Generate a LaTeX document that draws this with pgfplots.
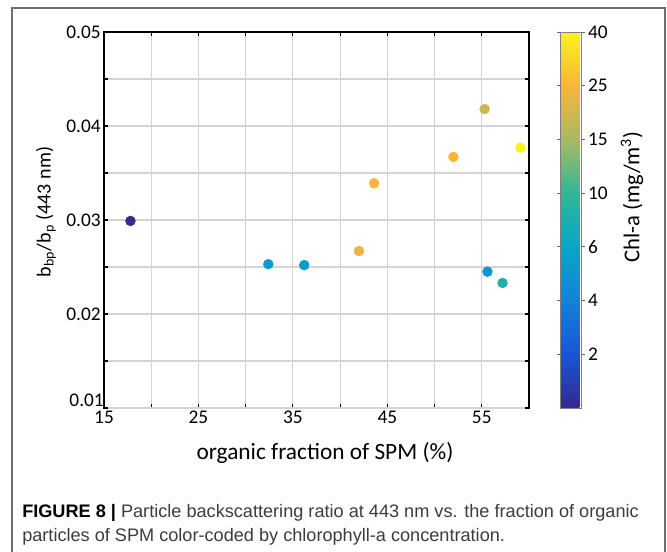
\documentclass[border=0pt]{standalone}
\usepackage{pgfplots}
\pgfplotsset{compat=1.18}
\usepackage{fontspec}
\setmainfont{Carlito}
\newfontfamily\capfont{Liberation Sans}

\definecolor{framegray}{RGB}{110,110,110}
\definecolor{captext}{RGB}{60,60,60}

\begin{document}
\begin{tikzpicture}[x=0.75pt,y=0.75pt]
\useasboundingbox (0,0) rectangle (667,552);
% outer frame, open at the bottom
\draw[framegray, line width=1.1pt] (12,0) -- (12,544) -- (665,544) -- (665,0);

\begin{axis}[
    at={(78pt,108pt)}, anchor=south west,
    scale only axis, width=318.75pt, height=282pt,
    xmin=15, xmax=60, ymin=0.01, ymax=0.05,
    scaled y ticks=false,
    xtick={15,20,25,30,35,40,45,50,55,60},
    xticklabels={15,,25,,35,,45,,55,},
    ytick={0.015,0.02,0.025,0.03,0.035,0.04,0.045,0.05},
    yticklabels={,0.02,,0.03,,0.04,,0.05},
    extra y ticks={0.01}, extra y tick labels={0.01},
    extra y tick style={yticklabel style={yshift=6pt, inner sep=1pt}},
    grid=major, grid style={black!17, line width=0.8pt},
    axis line style={line width=1.1pt},
    tick align=inside, tick style={black, line width=0.9pt}, major tick length=3pt,
    tick label style={font=\fontsize{14.5}{17}\selectfont},
    xticklabel style={yshift=1pt},
    yticklabel style={xshift=1pt},
    colormap={chl}{rgb255(0)=(53,40,140) rgb255(1)=(25,85,215) rgb255(2)=(20,130,215)
        rgb255(3)=(10,165,200) rgb255(4)=(50,182,150) rgb255(5)=(170,185,100)
        rgb255(6)=(250,180,60) rgb255(7)=(250,245,20)},
    point meta min=0, point meta max=7,
    colorbar,
    colorbar style={
        width=15.75pt,
        at={(parent axis.north east)}, anchor=north west, xshift=15pt,
        ytick={1,2,3,4,5,6,7},
        yticklabels={2,4,6,10,15,25,40},
        axis line style={black!50, line width=0.5pt},
        tick align=outside, major tick length=2.5pt,
        tick style={black!60, line width=0.6pt},
        tick label style={font=\fontsize{14.5}{17}\selectfont},
        yticklabel style={xshift=-1pt},
        grid=none,
    },
]
\addplot[scatter, only marks, mark=*, mark size=3.7pt,
    scatter/use mapped color={draw=mapped color, fill=mapped color},
    point meta=explicit] table[meta=c] {
x    y      c
17.8 0.0299 0.1
32.4 0.0253 2.7
36.2 0.0252 2.7
42.0 0.0267 5.8
43.6 0.0339 6.0
52.0 0.0367 6.0
55.3 0.0418 5.4
59.1 0.0377 7.0
55.6 0.0245 2.6
57.2 0.0233 3.6
};
\end{axis}

\node[anchor=base, font=\fontsize{17.5}{20}\selectfont] at (325,92) {organic fraction of SPM (\%)};
\node[rotate=90, font=\fontsize{15}{18}\selectfont] at (46,340) {b\textsubscript{bp}/b\textsubscript{p} (443 nm)};
\node[rotate=90, font=\fontsize{17}{20}\selectfont] at (632,355) {Chl-a (mg/m\textsuperscript{3})};

\node[anchor=base west, font=\capfont\fontsize{13.6}{16}\selectfont, text=captext, inner sep=0pt]
    at (22,34) {\textcolor{black}{\textbf{FIGURE 8 |}} Particle backscattering ratio at 443 nm vs. the fraction of organic};
\node[anchor=base west, font=\capfont\fontsize{13.6}{16}\selectfont, text=captext, inner sep=0pt]
    at (22,10) {particles of SPM color-coded by chlorophyll-a concentration.};
\end{tikzpicture}
\end{document}
